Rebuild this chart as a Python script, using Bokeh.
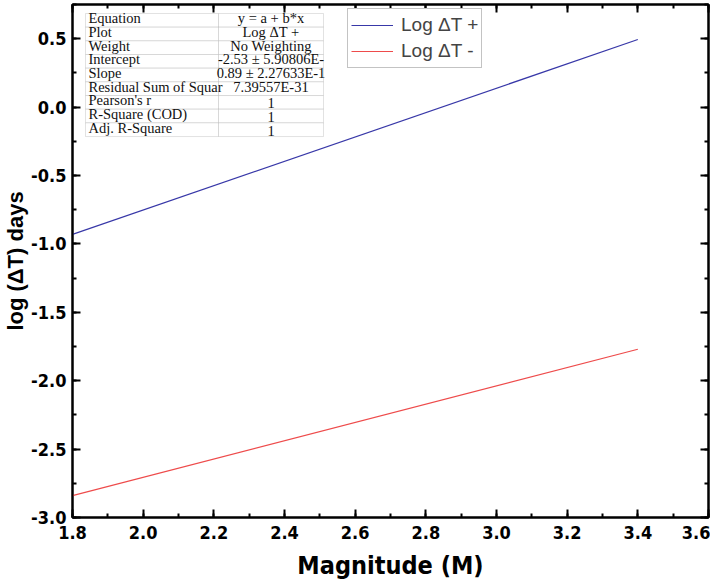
from bokeh.plotting import figure
from bokeh.models import (LinearAxis, Range1d, Legend, LegendItem, Label,
                          BoxAnnotation, SingleIntervalTicker, PrintfTickFormatter,
                          CustomJSTickFormatter)
from bokeh.embed import file_html
from bokeh.resources import INLINE

# ---- data ----
magnitude = [1.8, 3.4]
log_dt_plus = [-0.93, 0.494]
log_dt_minus = [-2.84, -1.77]

table_keys = ["Equation", "Plot", "Weight", "Intercept", "Slope",
              "Residual Sum of Squar", "Pearson's r", "R-Square (COD)",
              "Adj. R-Square"]
table_vals = ["y = a + b*x", "Log \u0394T +", "No Weighting",
              "-2.53 \u00b1 5.90806E-", "0.89 \u00b1 2.27633E-1",
              "7.39557E-31", "1", "1", "1"]

x_ticks_major = 0.2
y_ticks_major = 0.5

W, H = 710, 582
MB_L, MB_R, MB_T, MB_B = 64, 2, 4, 64
FH = H - MB_T - MB_B

p = figure(width=W, height=H, output_backend="svg", toolbar_location=None,
           x_range=Range1d(1.8, 3.6), y_range=Range1d(-3.0, 0.75),
           min_border_left=MB_L, min_border_right=MB_R,
           min_border_top=MB_T, min_border_bottom=MB_B,
           x_axis_label="Magnitude (M)", y_axis_label="log (\u0394T) days")
p.grid.visible = False
p.outline_line_color = "black"
p.outline_line_width = 2
p.background_fill_color = "white"
p.border_fill_color = "white"

tick_font = "DejaVu Sans Condensed"

def style_axis(ax, labels=True):
    ax.axis_line_width = 2
    ax.major_tick_line_width = 2
    ax.minor_tick_line_width = 2
    ax.major_tick_in = 8
    ax.major_tick_out = 0
    ax.minor_tick_in = 4
    ax.minor_tick_out = 0
    if labels:
        ax.formatter = PrintfTickFormatter(format="%.1f")
        ax.major_label_text_font = tick_font
        ax.major_label_text_font_style = "bold"
        ax.major_label_text_font_size = "18px"
        ax.major_label_text_color = "black"
        ax.axis_label_text_color = "black"
    else:
        ax.formatter = CustomJSTickFormatter(code="return '';")
        ax.major_label_text_font_size = "1px"
        ax.major_label_standoff = 0
        ax.axis_label = None

xa = p.xaxis[0]
ya = p.yaxis[0]
xa.ticker = SingleIntervalTicker(interval=x_ticks_major, num_minor_ticks=2)
ya.ticker = SingleIntervalTicker(interval=y_ticks_major, num_minor_ticks=2)
style_axis(xa)
style_axis(ya)
xa.major_label_standoff = 8
ya.major_label_standoff = 6
xa.axis_label_text_font = tick_font
xa.axis_label_text_font_style = "bold"
xa.axis_label_text_font_size = "25px"
xa.axis_label_standoff = 9
ya.axis_label_text_font = "Liberation Sans"
ya.axis_label_text_font_style = "bold"
ya.axis_label_text_font_size = "22px"
ya.axis_label_standoff = 0

top = LinearAxis(ticker=SingleIntervalTicker(interval=x_ticks_major, num_minor_ticks=2))
right = LinearAxis(ticker=SingleIntervalTicker(interval=y_ticks_major, num_minor_ticks=2))
style_axis(top, labels=False)
style_axis(right, labels=False)
p.add_layout(top, "above")
p.add_layout(right, "right")

r1 = p.line(magnitude, log_dt_plus, line_color="#3838a8", line_width=1.2)
r2 = p.line(magnitude, log_dt_minus, line_color="#ee4b4b", line_width=1.2)

legend = Legend(items=[LegendItem(label="Log \u0394T +", renderers=[r1]),
                       LegendItem(label="Log \u0394T -", renderers=[r2])],
                location=(275, FH - 8 - 57))
legend.label_text_font = "Liberation Sans"
legend.label_text_font_size = "19px"
legend.glyph_width = 42
legend.glyph_height = 26
legend.label_height = 26
legend.label_standoff = 8
legend.padding = 3
legend.spacing = 0
legend.margin = 0
legend.border_line_color = "#888888"
legend.border_line_width = 1
legend.background_fill_alpha = 1
p.add_layout(legend)

# ---- fit results table (screen units relative to frame) ----
t_left, t_mid, t_right = 13, 146, 251
t_top = FH - 10
row_h = 13.67
for i, (k, v) in enumerate(zip(table_keys, table_vals)):
    yt = t_top - i * row_h
    yb = yt - row_h
    for (l, r) in ((t_left, t_mid), (t_mid, t_right)):
        p.add_layout(BoxAnnotation(left=l, right=r, top=yt, bottom=yb,
                                   left_units="screen", right_units="screen",
                                   top_units="screen", bottom_units="screen",
                                   fill_color="white", fill_alpha=1,
                                   line_color="#a0a0a0", line_width=1,
                                   level="annotation"))
    p.add_layout(Label(x=t_left + 3, y=yb + 1, x_units="screen", y_units="screen",
                       text=k, text_font="Liberation Serif", text_font_size="14.5px",
                       text_color="#111111", text_baseline="bottom", text_align="left"))
    p.add_layout(Label(x=(t_mid + t_right) / 2, y=yb + 1, x_units="screen",
                       y_units="screen", text=v, text_font="Liberation Serif",
                       text_font_size="14.5px", text_color="#111111",
                       text_baseline="bottom", text_align="center"))

open("out.html", "w").write(file_html(p, INLINE))
